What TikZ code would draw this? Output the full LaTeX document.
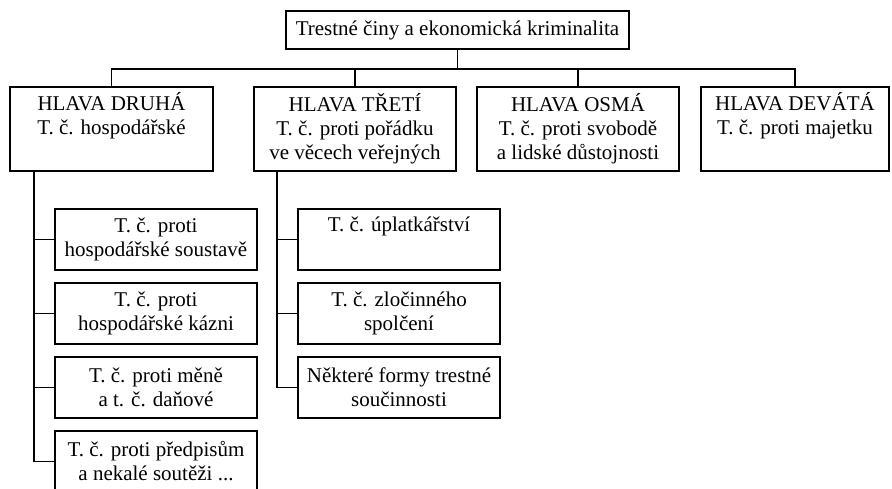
\documentclass[tikz,border=0pt]{standalone}
\usepackage{fontspec}
\setmainfont{Liberation Serif}
\begin{document}
\begin{tikzpicture}[x=1pt,y=-1pt,
  box/.style={draw, line width=1.8pt, inner sep=0pt, align=center, font=\fontsize{21}{24}\selectfont},
  top/.style={box, minimum width=343pt, minimum height=38pt},
  head/.style={box, minimum height=84pt},
  sub/.style={box, minimum width=202pt, minimum height=61pt},
  conn/.style={line width=1.8pt}]
\useasboundingbox (0,0) rectangle (892,489);
\node[top] (t) at (457.5,30) {Trestné činy a ekonomická kriminalita};
\node[head, minimum width=203pt] (b1) at (111.5,129) {HLAVA DRUHÁ\\T. č. hospodářské\\\strut};
\node[head, minimum width=202pt] (b2) at (355,129) {HLAVA TŘETÍ\\T. č. proti pořádku\\ve věcech veřejných};
\node[head, minimum width=202pt] (b3) at (578,129) {HLAVA OSMÁ\\T. č. proti svobodě\\a lidské důstojnosti};
\node[head, minimum width=188pt] (b4) at (795,129) {HLAVA DEVÁTÁ\\T. č. proti majetku\\\strut};
\node[sub] (c1) at (156,239.5) {T. č. proti\\hospodářské soustavě};
\node[sub] (c2) at (156,313.5) {T. č. proti\\hospodářské kázni};
\node[sub] (c3) at (156,387.5) {T. č. proti měně\\a t. č. daňové};
\node[sub] (c4) at (156,461.5) {T. č. proti předpisům\\a nekalé soutěži ...};
\node[sub] (d1) at (399,239.5) {T. č. úplatkářství\\\strut};
\node[sub] (d2) at (399,313.5) {T. č. zločinného\\spolčení};
\node[sub] (d3) at (399,387.5) {Některé formy trestné\\součinnosti};
\draw[conn] (t.south) -- ++(0,19) coordinate (j);
\draw[conn] (b1.north) |- (j) -| (b4.north);
\draw[conn] (b2.north) -- (b2.north |- j);
\draw[conn] (b3.north) -- (b3.north |- j);
\coordinate (s1) at ([xshift=25pt]b1.south west);
\coordinate (s2) at ([xshift=24pt]b2.south west);
\draw[conn] (s1) |- (c4.west);
\foreach \c in {c1,c2,c3} \draw[conn] (s1 |- \c.west) -- (\c.west);
\draw[conn] (s2) |- (d3.west);
\foreach \c in {d1,d2} \draw[conn] (s2 |- \c.west) -- (\c.west);
\end{tikzpicture}
\end{document}
